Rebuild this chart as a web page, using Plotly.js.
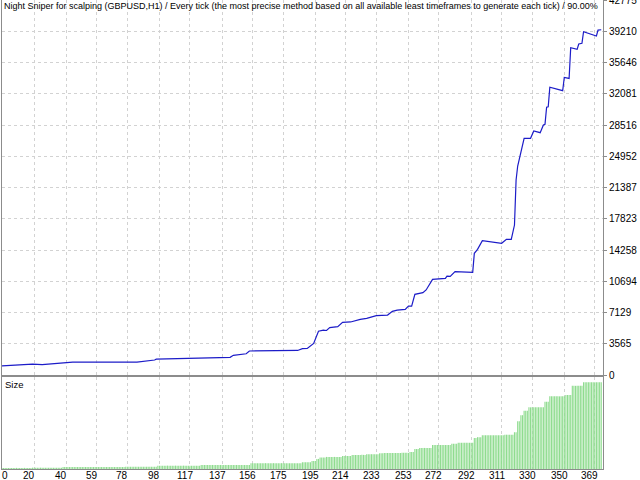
<!DOCTYPE html>
<html>
<head>
<meta charset="utf-8">
<script src="https://cdn.plot.ly/plotly-3.0.1.min.js"></script>
<style>html,body{margin:0;padding:0;background:#fff;}#chart{width:640px;height:480px;}</style>
</head>
<body>
<div id="chart"></div>
<script>
// ---- data ----
const chartTitle = "Night Sniper for scalping (GBPUSD,H1) / Every tick (the most precise method based on all available least timeframes to generate each tick) / 90.00%";

// balance curve vertices: trade number and balance
const balTrade = [0, 11, 19, 25, 32, 38, 44, 84, 90, 95, 96, 113, 129, 142, 144, 152, 154, 184, 187, 190, 194, 197, 200, 202, 204, 209, 212, 217, 223, 227, 233, 240, 243, 246, 251, 253, 255, 257, 262, 264, 268, 276, 277, 279, 282, 293, 294, 296, 299, 311, 314, 317, 319, 320, 321, 323, 325, 329, 331, 335, 337, 338, 339, 340, 341, 349, 350, 353, 354, 358, 359, 361, 362, 370, 371, 373];
const balValue = [1050, 1130, 1250, 1190, 1290, 1400, 1460, 1480, 1600, 1710, 1810, 1880, 1950, 2020, 2250, 2420, 2740, 2800, 3000, 3030, 3610, 5000, 5110, 5080, 5400, 5510, 6010, 6050, 6350, 6470, 6770, 6840, 7260, 7410, 7490, 7870, 7850, 9200, 9390, 9700, 10910, 11030, 11290, 11250, 11790, 11710, 13880, 14340, 15320, 15020, 15480, 15480, 17110, 22240, 23840, 25290, 27000, 27000, 27830, 27640, 28520, 28600, 30540, 30600, 32820, 32430, 33940, 33830, 37340, 37150, 37760, 37840, 39160, 38670, 39350, 39380];

// lot size of each trade (lower panel)
const sizes = [
0.05,0.05,0.05,0.05,0.05,0.05,0.05,0.05,0.05,0.05,0.05,0.05,0.05,0.05,0.05,0.05,0.05,0.05,0.05,
0.06,0.06,0.06,0.06,0.06,0.06,0.06,0.06,0.06,0.06,0.06,0.06,0.06,0.06,0.06,0.06,0.06,0.06,0.06,
0.09,0.09,0.09,0.09,0.09,0.09,0.09,0.09,0.09,0.09,0.09,0.09,0.09,0.09,0.09,0.09,0.09,0.09,0.09,0.09,0.09,0.09,0.09,0.09,0.09,0.09,0.09,0.09,0.09,0.09,0.09,0.09,0.09,0.09,0.09,0.09,0.09,0.09,0.09,
0.10,0.10,0.10,0.10,0.10,0.10,0.10,0.10,0.10,0.10,0.10,0.10,0.10,0.10,0.10,0.10,0.10,0.10,0.10,0.10,
0.14,0.14,0.15,0.15,0.15,0.15,0.15,0.15,0.15,0.15,0.15,0.15,0.15,0.15,0.15,0.15,0.15,0.15,0.15,0.15,0.15,0.15,0.15,0.15,0.15,0.15,0.15,
0.18,0.18,0.18,0.18,0.18,0.18,0.18,0.18,0.18,0.18,0.18,0.18,0.18,0.18,0.18,0.18,0.18,0.18,0.18,0.18,0.18,0.18,0.18,0.18,0.18,0.18,0.18,0.18,0.18,0.18,0.18,
0.26,0.26,0.26,0.26,0.26,0.26,0.26,0.26,0.26,0.26,0.26,0.26,0.26,0.26,0.26,0.26,0.26,0.26,0.26,0.26,0.26,0.26,0.26,0.26,0.26,0.26,0.26,0.26,0.26,0.26,0.26,0.26,
0.30,0.30,0.30,0.30,0.30,0.30,
0.36,0.36,0.36,
0.45,0.45,
0.51,0.51,0.51,0.51,
0.54,0.54,0.54,0.54,0.54,0.54,0.54,0.54,0.54,0.54,
0.58,0.58,0.58,0.58,0.58,0.58,
0.63,0.63,0.63,0.62,0.63,0.63,0.64,0.63,0.63,
0.66,0.66,0.66,0.66,0.66,0.66,0.66,0.66,
0.70,0.70,0.70,0.71,0.71,0.71,0.71,0.71,0.71,0.71,0.71,0.71,0.71,0.71,0.72,0.72,0.72,0.72,0.72,
0.76,0.76,0.76,
0.89,0.89,0.89,
0.94,0.94,0.94,0.94,0.94,0.94,0.94,0.94,
1.07,1.07,1.07,1.07,1.07,1.07,1.07,1.07,1.07,1.07,1.07,1.07,
1.13,1.13,1.13,1.13,
1.17,1.17,1.17,1.17,1.17,1.17,1.17,1.17,1.17,1.17,
1.38,1.38,
1.42,1.42,1.42,
1.51,1.51,1.51,1.51,1.51,1.51,1.51,1.51,1.51,1.51,1.51,1.51,1.51,1.51,
1.53,1.53,1.53,1.53,1.53,1.53,
1.64,1.64,
2.13,2.13,
2.40,2.40,
2.60,2.60,2.60,
2.75,2.75,2.75,2.75,2.75,2.75,2.75,2.75,2.75,2.75,
3.00,3.00,3.00,
3.24,3.24,3.24,3.24,3.24,3.24,3.24,3.24,3.24,3.24,
3.30,3.30,3.30,3.30,
3.71,3.71,3.71,3.71,3.71,3.71,3.71,
3.87,3.87,3.87,3.87,3.87,3.87,3.87,3.87,3.87,3.87,3.87,3.87
];

// axis ticks
const yTickVals = [0, 3565, 7129, 10694, 14258, 17823, 21387, 24952, 28516, 32081, 35646, 39210, 42775];
const xTickLabels = [0, 20, 40, 59, 78, 98, 117, 137, 156, 175, 195, 214, 233, 253, 272, 292, 311, 330, 350, 369];

// ---- chart ----
const FONT = "Liberation Sans, Arial, sans-serif";
const tradeNo = sizes.map((_, i) => i);
const gridCol = "#d2d2d2";
const frameCol = "#8c8c8c";

const traces = [
  {
    type: "scatter", mode: "lines",
    x: balTrade, y: balValue,
    xaxis: "x", yaxis: "y",
    line: {color: "#1c1cc8", width: 1.2},
    hoverinfo: "skip"
  },
  {
    type: "bar",
    x: tradeNo, y: sizes,
    xaxis: "x2", yaxis: "y2",
    marker: {color: "#8fdc8f", line: {width: 0}},
    hoverinfo: "skip"
  }
];

const xRange = [0, 374.1];
const annotations = [
  {
    text: chartTitle, xref: "paper", yref: "paper", x: 0, y: 1,
    xanchor: "left", yanchor: "top", xshift: 0, yshift: 1, showarrow: false,
    font: {family: FONT, size: 9, color: "#000"}
  },
  {
    text: "Size", xref: "paper", yref: "paper", x: 0, y: 0.196,
    xanchor: "left", yanchor: "top", xshift: 1, yshift: 0, showarrow: false,
    font: {family: FONT, size: 9.5, color: "#000"}
  }
];
xTickLabels.forEach((v, k) => {
  annotations.push({
    text: String(v), xref: "x2", yref: "paper", x: v, y: 0,
    xanchor: k === 0 ? "left" : "center", yanchor: "top",
    xshift: k === 0 ? -2 : -5, yshift: 1, showarrow: false,
    font: {family: FONT, size: 10, color: "#000"}
  });
});

const layout = {
  width: 640, height: 480,
  margin: {l: 2, r: 37, t: 0, b: 11, pad: 0},
  paper_bgcolor: "#fff", plot_bgcolor: "#fff",
  showlegend: false,
  bargap: 0.3,
  font: {family: FONT, size: 10, color: "#000"},
  xaxis: {
    domain: [0, 1], anchor: "y", range: xRange,
    tickvals: xTickLabels, showticklabels: false, ticks: "",
    showgrid: true, gridcolor: gridCol, griddash: "dot", gridwidth: 1,
    showline: true, mirror: true, linecolor: frameCol, linewidth: 1,
    zeroline: false, fixedrange: true
  },
  yaxis: {
    domain: [0.2004, 1], anchor: "x", side: "right", range: [0, 42775],
    tickvals: yTickVals, ticktext: yTickVals.map(String),
    ticks: "outside", ticklen: 3, tickcolor: frameCol,
    ticklabeloverflow: "allow",
    tickfont: {family: FONT, size: 10, color: "#000"},
    showgrid: true, gridcolor: gridCol, griddash: "dot", gridwidth: 1,
    showline: true, mirror: true, linecolor: frameCol, linewidth: 1,
    zeroline: false, fixedrange: true
  },
  xaxis2: {
    domain: [0, 1], anchor: "y2", range: xRange,
    tickvals: xTickLabels, showticklabels: false, ticks: "",
    showgrid: true, gridcolor: gridCol, griddash: "dot", gridwidth: 1,
    showline: true, mirror: true, linecolor: frameCol, linewidth: 1,
    zeroline: false, fixedrange: true
  },
  yaxis2: {
    domain: [0, 0.196], anchor: "x2", side: "right", range: [0, 4.1],
    showticklabels: false, ticks: "", showgrid: false,
    showline: true, mirror: true, linecolor: frameCol, linewidth: 1,
    zeroline: false, fixedrange: true
  },
  annotations: annotations
};

Plotly.newPlot("chart", traces, layout, {staticPlot: true, displayModeBar: false});
</script>
</body>
</html>
